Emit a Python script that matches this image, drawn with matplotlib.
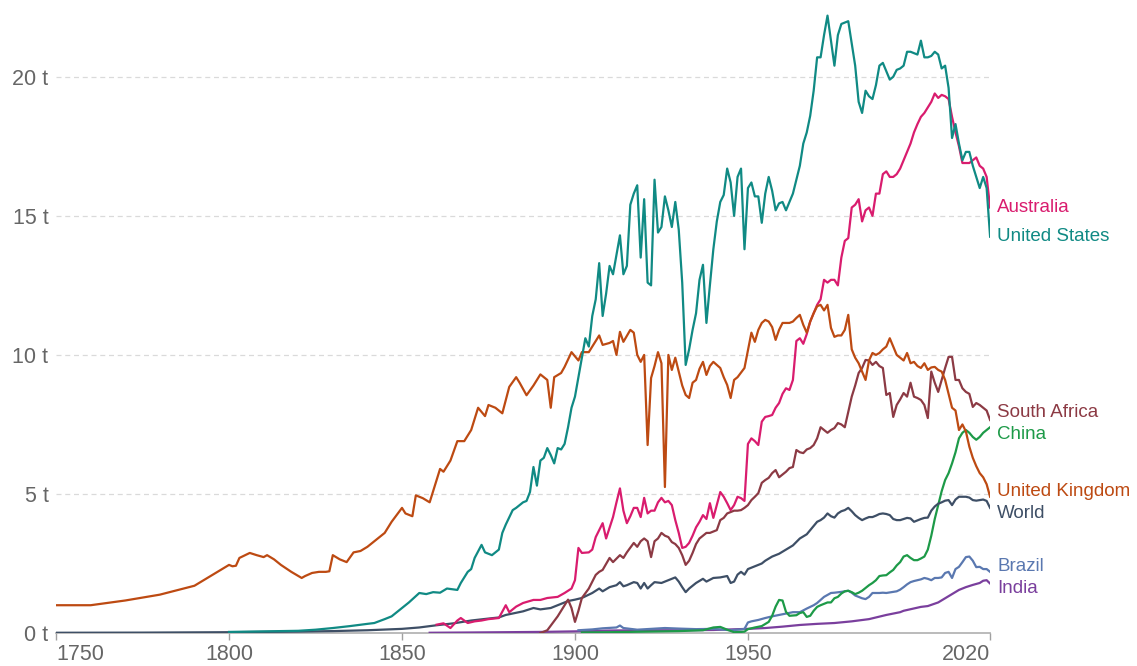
import matplotlib
matplotlib.use("Agg")
import matplotlib.pyplot as plt

plt.rcParams['font.family'] = ['Liberation Sans', 'DejaVu Sans']

# CO2 per capita (t)
uk_years = [1750, 1760, 1770, 1780, 1790, 1800, 1801, 1802, 1803, 1806, 1808, 1810, 1811, 1813, 1815, 1818,
            1821, 1822, 1824, 1826, 1828, 1829, 1830, 1832, 1834, 1836, 1838, 1840, 1842, 1845, 1847, 1850,
            1851, 1853, 1854, 1856, 1858, 1859, 1861, 1862, 1864, 1866, 1868, 1870, 1872, 1874, 1875, 1877,
            1879, 1881, 1883, 1884, 1886, 1888, 1890, 1892, 1893, 1894, 1896, 1897, 1899, 1901, 1902, 1904,
            1907, 1908, 1910, 1911, 1912, 1913, 1914, 1916, 1917, 1918, 1919, 1920, 1921, 1922, 1923, 1924,
            1925, 1926, 1927, 1928, 1929, 1930, 1931, 1932, 1933, 1934, 1935, 1936, 1937, 1938, 1939, 1940,
            1942, 1943, 1944, 1945, 1946, 1947, 1949, 1951, 1952, 1953, 1954, 1955, 1956, 1957, 1958, 1959,
            1960, 1962, 1963, 1964, 1965, 1966, 1967, 1968, 1969, 1970, 1971, 1972, 1973, 1974, 1975, 1976,
            1977, 1978, 1979, 1980, 1981, 1982, 1983, 1984, 1985, 1986, 1987, 1988, 1989, 1990, 1991, 1992,
            1993, 1994, 1995, 1996, 1997, 1998, 1999, 2000, 2001, 2002, 2003, 2004, 2005, 2006, 2007, 2008,
            2009, 2010, 2011, 2012, 2013, 2014, 2015, 2016, 2017, 2018, 2019, 2020]
uk_vals = [1.0, 1.0, 1.17, 1.38, 1.7, 2.45, 2.4, 2.42, 2.7, 2.88, 2.8, 2.73, 2.8, 2.65, 2.45, 2.2,
           1.98, 2.05, 2.16, 2.2, 2.2, 2.22, 2.8, 2.65, 2.55, 2.9, 2.95, 3.1, 3.3, 3.6, 4.0, 4.5,
           4.3, 4.2, 4.95, 4.85, 4.7, 5.1, 5.9, 5.8, 6.2, 6.9, 6.9, 7.3, 8.1, 7.8, 8.2, 8.1,
           7.9, 8.85, 9.2, 9.0, 8.55, 8.9, 9.3, 9.1, 8.1, 9.2, 9.35, 9.57, 10.1, 9.8, 10.1, 10.1,
           10.7, 10.36, 10.43, 10.5, 10.0, 10.83, 10.47, 10.9, 10.8, 10.0, 9.75, 10.0, 6.76, 9.17, 9.6, 10.1,
           9.7, 5.25, 10.0, 9.46, 9.9, 9.4, 8.9, 8.56, 8.45, 9.0, 9.1, 9.5, 9.75, 9.28, 9.6, 9.75,
           9.53, 9.2, 8.92, 8.45, 9.1, 9.2, 9.53, 10.8, 10.47, 10.9, 11.15, 11.26, 11.2, 11.0, 10.54, 10.9,
           11.15, 11.15, 11.2, 11.33, 11.44, 11.08, 10.8, 11.2, 11.5, 11.75, 11.8, 11.6, 11.8, 10.97, 10.65, 10.7,
           10.7, 10.9, 11.44, 10.2, 9.9, 9.7, 9.4, 9.1, 9.8, 10.07, 10.0, 10.07, 10.2, 10.3, 10.6, 10.3,
           10.0, 9.9, 9.8, 10.07, 9.7, 9.75, 9.6, 9.53, 9.7, 9.46, 9.55, 9.57, 9.46, 9.4, 9.1, 8.6,
           8.1, 8.0, 7.3, 7.5, 7.25, 6.7, 6.3, 6.0, 5.75, 5.6, 5.35, 4.9]

us_years = [1800, 1810, 1820, 1825, 1830, 1835, 1838, 1840, 1842, 1845, 1847, 1850, 1852, 1855, 1857, 1859,
            1861, 1863, 1866, 1867, 1869, 1870, 1871, 1873, 1874, 1876, 1878, 1879, 1880, 1882, 1883, 1885,
            1886, 1887, 1888, 1889, 1890, 1891, 1892, 1893, 1894, 1895, 1896, 1897, 1898, 1899, 1900, 1901,
            1902, 1903, 1904, 1905, 1906, 1907, 1908, 1909, 1910, 1911, 1912, 1913, 1914, 1915, 1916, 1917,
            1918, 1919, 1920, 1921, 1922, 1923, 1924, 1925, 1926, 1927, 1928, 1929, 1930, 1931, 1932, 1933,
            1934, 1935, 1936, 1937, 1938, 1939, 1940, 1941, 1942, 1943, 1944, 1945, 1946, 1947, 1948, 1949,
            1950, 1951, 1952, 1953, 1954, 1955, 1956, 1957, 1958, 1959, 1960, 1961, 1962, 1963, 1964, 1965,
            1966, 1967, 1968, 1969, 1970, 1971, 1972, 1973, 1974, 1975, 1976, 1977, 1978, 1979, 1980, 1981,
            1982, 1983, 1984, 1985, 1986, 1987, 1988, 1989, 1990, 1991, 1992, 1993, 1994, 1995, 1996, 1997,
            1998, 1999, 2000, 2001, 2002, 2003, 2004, 2005, 2006, 2007, 2008, 2009, 2010, 2011, 2012, 2013,
            2014, 2015, 2016, 2017, 2018, 2019, 2020]
us_vals = [0.04, 0.06, 0.08, 0.12, 0.18, 0.25, 0.3, 0.33, 0.36, 0.5, 0.6, 0.9, 1.1, 1.44, 1.4, 1.47,
           1.45, 1.6, 1.55, 1.8, 2.2, 2.3, 2.7, 3.17, 2.9, 2.8, 3.0, 3.6, 3.9, 4.42, 4.5, 4.7,
           4.75, 5.07, 5.97, 5.3, 6.2, 6.3, 6.65, 6.4, 6.1, 6.65, 6.6, 6.8, 7.4, 8.1, 8.5, 9.2,
           9.9, 10.6, 10.3, 11.4, 12.0, 13.3, 11.4, 12.2, 13.2, 12.9, 13.6, 14.3, 12.9, 13.2, 15.4, 15.8,
           16.1, 13.5, 15.6, 12.6, 12.5, 16.3, 14.4, 14.6, 15.7, 15.2, 14.6, 15.5, 14.5, 12.6, 9.64, 10.2,
           10.9, 11.5, 12.7, 13.24, 11.15, 12.5, 13.8, 14.8, 15.5, 15.75, 16.7, 16.2, 15.0, 16.4, 16.7, 13.8,
           16.0, 16.2, 15.7, 15.7, 14.75, 15.8, 16.4, 15.9, 15.2, 15.45, 15.5, 15.2, 15.5, 15.8, 16.3, 16.8,
           17.6, 18.0, 18.6, 19.5, 20.7, 20.7, 21.5, 22.2, 21.3, 20.4, 21.5, 21.9, 21.95, 22.0, 21.2, 20.4,
           19.1, 18.7, 19.5, 19.3, 19.2, 19.7, 20.4, 20.5, 20.2, 19.9, 20.0, 20.25, 20.3, 20.4, 20.9, 20.9,
           20.85, 20.8, 21.3, 20.7, 20.7, 20.75, 20.9, 20.8, 20.3, 20.4, 19.6, 17.8, 18.3, 17.6, 17.0, 17.3,
           17.3, 16.8, 16.4, 16.0, 16.4, 16.0, 14.25]

aus_years = [1860, 1862, 1864, 1866, 1867, 1869, 1871, 1873, 1875, 1878, 1880, 1881, 1883, 1885, 1888, 1890,
             1892, 1895, 1897, 1899, 1900, 1901, 1902, 1904, 1905, 1906, 1908, 1909, 1911, 1912, 1913, 1914,
             1915, 1916, 1917, 1918, 1919, 1920, 1921, 1922, 1923, 1924, 1925, 1926, 1927, 1928, 1929, 1930,
             1931, 1932, 1933, 1934, 1935, 1936, 1937, 1938, 1939, 1940, 1941, 1942, 1943, 1944, 1945, 1946,
             1947, 1948, 1949, 1950, 1951, 1952, 1953, 1954, 1955, 1956, 1957, 1958, 1959, 1960, 1961, 1962,
             1963, 1964, 1965, 1966, 1967, 1968, 1969, 1970, 1971, 1972, 1973, 1974, 1975, 1976, 1977, 1978,
             1979, 1980, 1981, 1982, 1983, 1984, 1985, 1986, 1987, 1988, 1989, 1990, 1991, 1992, 1993, 1994,
             1995, 1996, 1997, 1998, 1999, 2000, 2001, 2002, 2003, 2004, 2005, 2006, 2007, 2008, 2009, 2010,
             2011, 2012, 2013, 2014, 2015, 2016, 2017, 2018, 2019, 2020]
aus_vals = [0.3, 0.35, 0.18, 0.45, 0.54, 0.36, 0.42, 0.45, 0.5, 0.54, 1.0, 0.75, 0.95, 1.08, 1.19, 1.19,
            1.26, 1.3, 1.44, 1.6, 1.9, 3.06, 2.88, 2.9, 3.0, 3.45, 3.95, 3.4, 4.17, 4.7, 5.2, 4.4,
            3.95, 4.2, 4.5, 4.5, 4.17, 4.86, 4.3, 4.4, 4.4, 4.7, 4.86, 4.7, 4.75, 4.6, 4.06, 3.6,
            3.06, 3.1, 3.24, 3.5, 3.8, 4.0, 4.24, 4.1, 4.67, 4.14, 4.6, 5.07, 4.9, 4.67, 4.42, 4.6,
            4.9, 4.85, 4.75, 6.8, 7.0, 6.9, 6.76, 7.6, 7.77, 7.8, 7.84, 8.1, 8.27, 8.6, 8.8, 8.74,
            9.1, 10.5, 10.6, 10.4, 10.75, 11.2, 11.5, 11.8, 12.0, 12.7, 12.6, 12.7, 12.7, 12.5, 13.5, 14.1,
            14.2, 15.3, 15.4, 15.6, 14.8, 15.2, 15.3, 15.0, 15.8, 15.8, 16.5, 16.6, 16.4, 16.4, 16.5, 16.7,
            17.0, 17.3, 17.6, 18.0, 18.3, 18.56, 18.7, 18.9, 19.1, 19.4, 19.24, 19.35, 19.3, 19.2, 18.56, 18.0,
            17.5, 16.9, 16.9, 16.9, 17.0, 17.1, 16.8, 16.7, 16.4, 15.3]

za_years = [1890, 1892, 1895, 1897, 1898, 1899, 1900, 1901, 1902, 1904, 1906, 1907, 1908, 1910, 1911, 1913,
            1914, 1915, 1917, 1918, 1919, 1920, 1921, 1922, 1923, 1924, 1925, 1926, 1927, 1928, 1929, 1930,
            1931, 1932, 1933, 1934, 1935, 1936, 1937, 1938, 1939, 1940, 1941, 1942, 1943, 1944, 1945, 1946,
            1947, 1948, 1949, 1950, 1951, 1952, 1953, 1954, 1955, 1956, 1957, 1958, 1959, 1960, 1961, 1962,
            1963, 1964, 1965, 1966, 1967, 1968, 1969, 1970, 1971, 1972, 1973, 1974, 1975, 1976, 1977, 1978,
            1979, 1980, 1981, 1982, 1983, 1984, 1985, 1986, 1987, 1988, 1989, 1990, 1991, 1992, 1993, 1994,
            1995, 1996, 1997, 1998, 1999, 2000, 2001, 2002, 2003, 2004, 2005, 2006, 2007, 2008, 2009, 2010,
            2011, 2012, 2013, 2014, 2015, 2016, 2017, 2018, 2019, 2020]
za_vals = [0.0, 0.1, 0.6, 1.0, 1.2, 0.9, 0.4, 0.8, 1.26, 1.6, 2.09, 2.2, 2.27, 2.7, 2.55, 2.8,
           2.7, 2.9, 3.24, 3.1, 3.3, 3.4, 3.3, 2.73, 3.3, 3.4, 3.6, 3.5, 3.45, 3.27, 3.2, 3.06,
           2.8, 2.45, 2.6, 2.88, 3.2, 3.4, 3.5, 3.6, 3.6, 3.65, 3.7, 4.06, 4.14, 4.3, 4.35, 4.4,
           4.4, 4.42, 4.5, 4.6, 4.78, 4.9, 5.03, 5.4, 5.5, 5.58, 5.75, 5.86, 5.6, 5.7, 5.8, 5.93,
           5.97, 6.58, 6.5, 6.47, 6.6, 6.65, 6.76, 7.0, 7.4, 7.3, 7.2, 7.3, 7.37, 7.55, 7.5, 7.4,
           7.95, 8.5, 8.9, 9.35, 9.53, 9.82, 9.8, 9.64, 9.75, 9.6, 9.53, 8.56, 8.63, 7.77, 8.2, 8.4,
           8.63, 8.5, 9.0, 8.5, 8.45, 8.38, 8.2, 7.73, 9.4, 9.0, 8.67, 9.1, 9.53, 9.93, 9.93, 9.1,
           9.1, 8.8, 8.67, 8.6, 8.13, 8.27, 8.2, 8.1, 8.0, 7.66]

cn_years = [1902, 1910, 1920, 1930, 1937, 1940, 1942, 1944, 1946, 1948, 1949, 1950, 1952, 1954, 1956, 1957,
            1958, 1959, 1960, 1961, 1962, 1963, 1964, 1965, 1966, 1967, 1968, 1969, 1970, 1971, 1972, 1973,
            1974, 1975, 1976, 1977, 1978, 1979, 1980, 1981, 1982, 1983, 1984, 1985, 1986, 1987, 1988, 1989,
            1990, 1991, 1992, 1993, 1994, 1995, 1996, 1997, 1998, 1999, 2000, 2001, 2002, 2003, 2004, 2005,
            2006, 2007, 2008, 2009, 2010, 2011, 2012, 2013, 2014, 2015, 2016, 2017, 2018, 2019, 2020]
cn_vals = [0.02, 0.03, 0.05, 0.07, 0.1, 0.2, 0.22, 0.12, 0.03, 0.04, 0.05, 0.14, 0.2, 0.25, 0.4, 0.62,
           0.95, 1.19, 1.17, 0.76, 0.62, 0.63, 0.64, 0.72, 0.75, 0.58, 0.62, 0.8, 0.94, 1.0, 1.05, 1.1,
           1.1, 1.25, 1.3, 1.42, 1.5, 1.52, 1.47, 1.4, 1.45, 1.52, 1.62, 1.72, 1.8, 1.9, 2.05, 2.07,
           2.08, 2.18, 2.27, 2.43, 2.55, 2.75, 2.8, 2.7, 2.62, 2.62, 2.68, 2.75, 3.0, 3.5, 4.1, 4.6,
           5.1, 5.5, 5.75, 6.1, 6.5, 7.0, 7.2, 7.3, 7.2, 7.05, 6.95, 7.05, 7.2, 7.3, 7.4]

br_years = [1901, 1905, 1908, 1912, 1913, 1914, 1918, 1922, 1926, 1930, 1935, 1940, 1945, 1948, 1949, 1950,
            1951, 1953, 1955, 1957, 1959, 1961, 1963, 1965, 1967, 1969, 1970, 1972, 1973, 1974, 1975, 1977,
            1978, 1979, 1980, 1981, 1982, 1983, 1984, 1985, 1986, 1987, 1988, 1989, 1990, 1991, 1992, 1993,
            1994, 1995, 1996, 1997, 1998, 1999, 2000, 2001, 2002, 2003, 2004, 2005, 2006, 2007, 2008, 2009,
            2010, 2011, 2012, 2013, 2014, 2015, 2016, 2017, 2018, 2019, 2020]
br_vals = [0.1, 0.13, 0.17, 0.2, 0.27, 0.18, 0.12, 0.15, 0.18, 0.16, 0.14, 0.15, 0.1, 0.13, 0.15, 0.38,
           0.42, 0.47, 0.54, 0.6, 0.65, 0.7, 0.75, 0.75, 0.88, 1.0, 1.08, 1.3, 1.37, 1.44, 1.45, 1.48,
           1.5, 1.52, 1.45, 1.35, 1.3, 1.25, 1.22, 1.3, 1.44, 1.44, 1.44, 1.45, 1.44, 1.46, 1.48, 1.5,
           1.56, 1.65, 1.75, 1.83, 1.87, 1.9, 1.93, 1.98, 1.95, 1.9, 1.98, 1.98, 2.0, 2.16, 2.2, 1.98,
           2.3, 2.38, 2.55, 2.73, 2.75, 2.6, 2.37, 2.38, 2.3, 2.3, 2.2]

in_years = [1858, 1870, 1880, 1890, 1900, 1910, 1920, 1930, 1940, 1950, 1955, 1960, 1965, 1970, 1975, 1980,
            1985, 1990, 1994, 1995, 2000, 2002, 2005, 2007, 2009, 2011, 2013, 2015, 2017, 2018, 2019, 2020]
in_vals = [0.01, 0.02, 0.03, 0.04, 0.06, 0.09, 0.1, 0.1, 0.11, 0.15, 0.18, 0.23, 0.29, 0.33, 0.36, 0.42,
           0.5, 0.65, 0.75, 0.8, 0.94, 0.97, 1.1, 1.25, 1.4, 1.55, 1.65, 1.73, 1.8, 1.88, 1.9, 1.78]

world_years = [1750, 1775, 1800, 1810, 1820, 1830, 1840, 1850, 1855, 1860, 1865, 1870, 1875, 1878, 1880, 1885,
               1888, 1890, 1893, 1895, 1898, 1900, 1902, 1905, 1907, 1908, 1910, 1912, 1913, 1914, 1915, 1917,
               1918, 1919, 1920, 1921, 1922, 1923, 1925, 1927, 1929, 1930, 1931, 1932, 1933, 1935, 1937, 1938,
               1940, 1942, 1944, 1945, 1946, 1947, 1948, 1949, 1950, 1952, 1954, 1955, 1957, 1959, 1961, 1963,
               1965, 1967, 1968, 1969, 1970, 1971, 1972, 1973, 1974, 1975, 1976, 1977, 1978, 1979, 1980, 1981,
               1982, 1983, 1984, 1985, 1986, 1987, 1988, 1989, 1990, 1991, 1992, 1993, 1994, 1995, 1996, 1997,
               1998, 1999, 2000, 2001, 2002, 2003, 2004, 2005, 2006, 2007, 2008, 2009, 2010, 2011, 2012, 2013,
               2014, 2015, 2016, 2017, 2018, 2019, 2020]
world_vals = [0.01, 0.015, 0.03, 0.04, 0.05, 0.07, 0.1, 0.15, 0.2, 0.28, 0.35, 0.45, 0.52, 0.56, 0.65, 0.78,
              0.9, 0.85, 0.9, 1.0, 1.15, 1.2, 1.26, 1.44, 1.6, 1.5, 1.65, 1.72, 1.83, 1.68, 1.72, 1.83,
              1.8, 1.6, 1.8, 1.6, 1.72, 1.83, 1.8, 1.9, 2.0, 1.85, 1.65, 1.47, 1.6, 1.8, 1.95, 1.85,
              1.98, 2.0, 2.05, 1.8, 1.85, 2.1, 2.2, 2.1, 2.3, 2.4, 2.5, 2.6, 2.75, 2.85, 3.0, 3.15,
              3.4, 3.55, 3.7, 3.85, 4.0, 4.06, 4.15, 4.3, 4.2, 4.15, 4.3, 4.38, 4.42, 4.5, 4.38, 4.24,
              4.14, 4.06, 4.12, 4.17, 4.17, 4.22, 4.28, 4.3, 4.28, 4.24, 4.1, 4.06, 4.06, 4.1, 4.14, 4.12,
              4.0, 4.05, 4.1, 4.14, 4.15, 4.4, 4.55, 4.65, 4.7, 4.76, 4.78, 4.6, 4.8, 4.9, 4.9, 4.9,
              4.87, 4.78, 4.76, 4.78, 4.8, 4.75, 4.5]

series = [
    ("India", in_years, in_vals, "#7a3f9d"),
    ("Brazil", br_years, br_vals, "#5a78b0"),
    ("China", cn_years, cn_vals, "#1d9a48"),
    ("World", world_years, world_vals, "#3e4f66"),
    ("South Africa", za_years, za_vals, "#8c3a44"),
    ("Australia", aus_years, aus_vals, "#d91c6e"),
    ("United Kingdom", uk_years, uk_vals, "#bd4a12"),
    ("United States", us_years, us_vals, "#108a84"),
]

x_ticks = [1750, 1800, 1850, 1900, 1950, 2020]
y_ticks = [0, 5, 10, 15, 20]

fig = plt.figure(figsize=(11.37, 6.66), dpi=100)
ax = fig.add_axes([0.0493, 0.0495, 0.8215, 0.9354])

for name, yrs, vals, col in series:
    ax.plot(yrs, vals, color=col, lw=1.6, solid_joinstyle='round')

ax.set_xlim(1750, 2020)
ax.set_ylim(0, 22.4)

for s in ['top', 'right', 'left']:
    ax.spines[s].set_visible(False)
ax.spines['bottom'].set_color('#b5b5b5')
ax.spines['bottom'].set_linewidth(1.3)
ax.spines['bottom'].set_zorder(0)

for v in y_ticks[1:]:
    ax.axhline(v, color='#dadada', lw=0.9, ls=(0, (4, 3)), zorder=0)

ax.set_yticks(y_ticks)
ax.set_yticklabels([f"{v} t" for v in y_ticks])
ax.tick_params(axis='y', length=0, pad=5.5, labelsize=15.5, labelcolor='#666666')

ax.set_xticks(x_ticks)
ax.set_xticklabels([str(v) for v in x_ticks])
ax.tick_params(axis='x', length=5, width=1, color='#a0a0a0', pad=3, labelsize=15.5, labelcolor='#666666')
xl = ax.get_xticklabels()
xl[0].set_ha('left')
xl[-1].set_ha('right')

# end-of-line labels, pushed apart when they collide
ends = sorted([(vals[-1], name, col) for name, yrs, vals, col in series], reverse=True)
pos = [e[0] for e in ends]
gap = 0.8
for i in range(len(pos) - 1):
    if pos[i] - pos[i + 1] < gap:
        mid = (pos[i] + pos[i + 1]) / 2
        pos[i] = mid + gap / 2
        pos[i + 1] = mid - gap / 2
for (v, name, col), p in zip(ends, pos):
    ax.annotate(name, xy=(2020, p), xytext=(5, 0), textcoords='offset points',
                va='center', ha='left', color=col, fontsize=13.5, annotation_clip=False)

fig.savefig("out.png", dpi=100)
